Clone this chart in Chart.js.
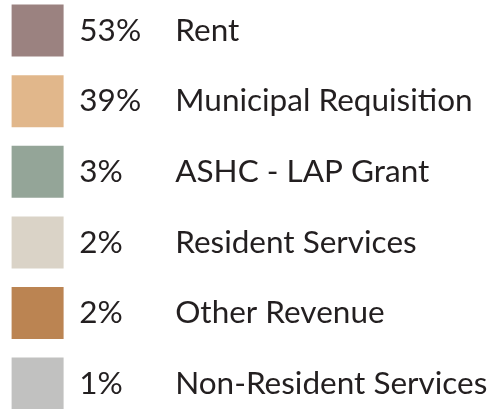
<!DOCTYPE html>
<html>
<head>
<meta charset="utf-8">
<script src="https://cdn.jsdelivr.net/npm/chart.js@4"></script>
<style>
  html, body { margin: 0; padding: 0; background: #fff; overflow: hidden; width: 487px; height: 409px; }
  #wrap { position: absolute; left: -6.6px; top: -13.6px; width: 600px; height: 470px; }
</style>
</head>
<body>
<div id="wrap"><canvas id="revenue"></canvas></div>
<script>
const categories = ["Rent", "Municipal Requisition", "ASHC - LAP Grant", "Resident Services", "Other Revenue", "Non-Resident Services"];
const shares = [53, 39, 3, 2, 2, 1];
const colors = ["#9b8280", "#e1b78b", "#94a598", "#dad3c7", "#bb8452", "#c1c1c0"];

const fontFamily = "Lato, 'Open Sans', sans-serif";
const fontSize = 31.5;
const nameOffset = 96.5; // distance from the start of the % text to the category name

// pad "3%" etc. so the names line up in one column
let measure = document.createElement("canvas").getContext("2d");
measure.font = `${fontSize}px ${fontFamily}`;
function labelText(share, name) {
  let text = `${share}%`;
  while (measure.measureText(text + " ").width <= nameOffset) text += " ";
  while (measure.measureText(text + "\u200A").width <= nameOffset + 0.5) text += "\u200A";
  return text + name;
}

let ctx = document.querySelector("#revenue").getContext("2d");
let chart = new Chart(ctx, {
  type: "doughnut",
  data: {
    labels: categories,
    datasets: [{ data: shares, backgroundColor: colors, borderWidth: 0 }],
  },
  options: {
    responsive: true,
    maintainAspectRatio: false,
    animation: false,
    events: [],
    radius: 0,
    plugins: {
      tooltip: { enabled: false },
      legend: {
        position: "left",
        align: "start",
        maxWidth: 600,
        labels: {
          boxWidth: 52,
          boxHeight: 52,
          padding: 18.6,
          color: "#231f20",
          font: { family: fontFamily, size: fontSize },
          generateLabels: (chart) => {
            let items = Chart.overrides.doughnut.plugins.legend.labels.generateLabels(chart);
            return items.map((item, i) => ({ ...item, text: labelText(shares[i], categories[i]) }));
          },
        },
      },
    },
  },
});
</script>
</body>
</html>
